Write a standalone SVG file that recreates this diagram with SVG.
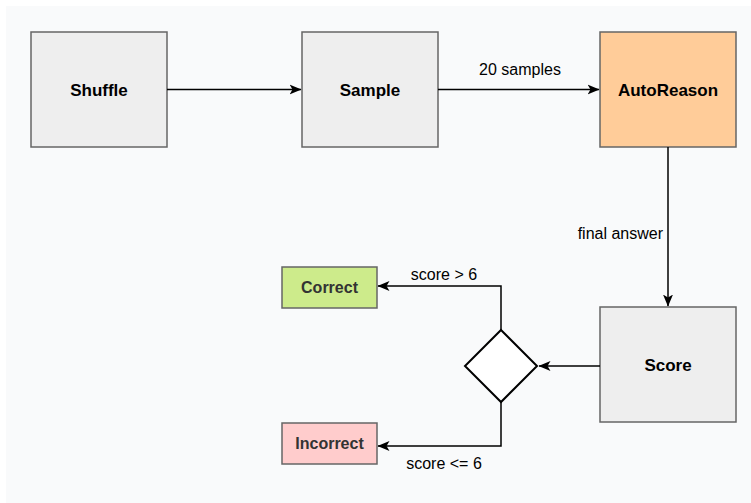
<svg xmlns="http://www.w3.org/2000/svg" width="751" height="503" viewBox="0 0 751 503">
<style>
.box{stroke:#666666;stroke-width:1.5}
.gray{fill:#eeeeee}
.lbl{font-family:"Liberation Sans",Arial,sans-serif;font-weight:bold;font-size:17px;text-anchor:middle;fill:#000}
.sm{font-family:"Liberation Sans",Arial,sans-serif;font-weight:bold;font-size:16px;text-anchor:middle;fill:#333333}
.edge{fill:none;stroke:#000;stroke-width:1.5}
.el{font-family:"Liberation Sans",Arial,sans-serif;font-size:16px;fill:#000}
</style>
<defs>
<marker id="arr" markerWidth="13" markerHeight="11" refX="11.5" refY="5.5" orient="auto" markerUnits="userSpaceOnUse">
<path d="M0,0.5 L12,5.5 L0,10.5 L3,5.5 Z" fill="#000"/>
</marker>
</defs>
<rect x="6" y="6" width="745" height="497" fill="#f9fafb"/>
<g id="shuffle"><rect class="box gray" x="31" y="32" width="136" height="115"/><text class="lbl" x="99" y="95.5">Shuffle</text></g>
<g id="sample"><rect class="box gray" x="302" y="32" width="136" height="115"/><text class="lbl" x="370" y="95.5">Sample</text></g>
<g id="autoreason"><rect class="box" fill="#ffcc99" x="600" y="32" width="136" height="115"/><text class="lbl" x="668" y="95.5">AutoReason</text></g>
<g id="score"><rect class="box gray" x="600" y="307" width="136" height="115"/><text class="lbl" x="668" y="371">Score</text></g>
<g id="decision"><path d="M501,330 L537,366 L501,402 L465,366 Z" fill="#ffffff" stroke="#000" stroke-width="2"/></g>
<g id="correct"><rect class="box" fill="#cdeb8b" x="282" y="267" width="95" height="41"/><text class="sm" x="329.5" y="293">Correct</text></g>
<g id="incorrect"><rect class="box" fill="#ffcccc" x="282" y="423" width="95" height="41"/><text class="sm" x="329.5" y="449">Incorrect</text></g>
<g id="connectors">
<path class="edge" d="M167,89.5 L301,89.5" marker-end="url(#arr)"/>
<path class="edge" d="M438,89.5 L599,89.5" marker-end="url(#arr)"/>
<path class="edge" d="M668,147 L668,306" marker-end="url(#arr)"/>
<path class="edge" d="M600,366 L539,366" marker-end="url(#arr)"/>
<path class="edge" d="M501,330 L501,286 L378,286" marker-end="url(#arr)"/>
<path class="edge" d="M501,402 L501,446 L378,446" marker-end="url(#arr)"/>
<text class="el" x="520" y="75" text-anchor="middle">20 samples</text>
<text class="el" x="663" y="239" text-anchor="end">final answer</text>
<text class="el" x="444" y="280" text-anchor="middle">score &gt; 6</text>
<text class="el" x="444" y="469" text-anchor="middle">score &lt;= 6</text>
</g>
</svg>
